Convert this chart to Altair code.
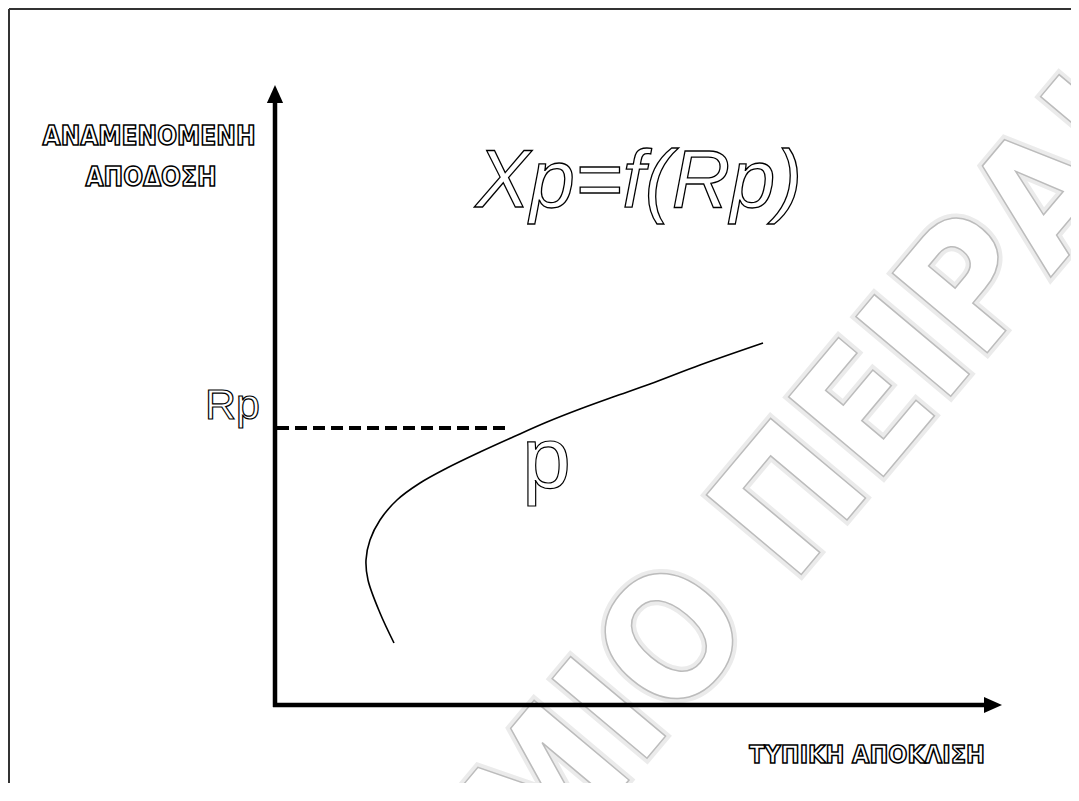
import altair as alt
import pandas as pd

# ---- data (units: pixels-like, origin at the axes crossing) ----
curve_risk   = [119, 105, 93, 91, 95, 105, 122, 145, 172, 205, 238, 272, 305, 338, 375, 425, 488]
curve_return = [62, 92, 125, 145, 165, 185, 205, 222, 237, 253, 268, 283, 296, 308, 321, 340, 362]

rp_level = 277          # expected return Rp of portfolio p
rp_risk = 235           # end of dashed guide

axis_x_end = 712
axis_y_end = 605
arrow_x = [718]
arrow_y = [611]

frame_left = -266
frame_top = 696

labels_big_y = ["ΑΝΑΜΕΝΟΜΕΝΗ", "ΑΠΟΔΟΣΗ"]
labels_big_y_x = [-126, -124]
labels_big_y_y = [560, 519]
label_x_axis = ["ΤΥΠΙΚΗ ΑΠΟΚΛΙΣΗ"]
label_x_axis_pos = [592, -58]
formula = ["Xp=f(Rp)"]
formula_pos = [364, 498]
rp_label = ["Rp"]
rp_label_pos = [-15, 286]
p_label = ["p"]
p_label_pos = [247, 217]
watermark = ["ΠΑΝΕΠΙΣΤΗΜΙΟ ΠΕΙΡΑΙΑ"]
watermark_pos = [925, 685]

W, H = 1063, 775
xs = alt.Scale(domain=[-267, 796], nice=False, zero=False)
ys = alt.Scale(domain=[-78, 697], nice=False, zero=False)


def X(f="x"):
    return alt.X(f + ":Q", scale=xs, axis=None)


def Y(f="y"):
    return alt.Y(f + ":Q", scale=ys, axis=None)


def text_layer(texts, xs_, ys_, **kw):
    df = pd.DataFrame({"x": xs_, "y": ys_, "t": texts})
    return alt.Chart(df).mark_text(**kw).encode(x=X(), y=Y(), text="t:N")


curve_df = pd.DataFrame({"x": curve_risk, "y": curve_return, "i": list(range(len(curve_risk)))})

wm_style = dict(font="DejaVu Sans Condensed", fontWeight="bold", fontSize=170,
                angle=310, align="right", baseline="middle")
wm_shadow = text_layer(watermark, [watermark_pos[0]], [watermark_pos[1]],
                       fill="white", stroke="#ebebeb", strokeWidth=9, **wm_style)
wm = text_layer(watermark, [watermark_pos[0]], [watermark_pos[1]],
                fill="white", stroke="#bcbcbc", strokeWidth=1.5, **wm_style)

frame_top_rule = alt.Chart(pd.DataFrame({"x": [frame_left], "x2": [800], "y": [frame_top]})).mark_rule(
    color="#333333", strokeWidth=2).encode(x=X(), x2="x2:Q", y=Y())
frame_left_rule = alt.Chart(pd.DataFrame({"x": [frame_left], "y": [-80], "y2": [frame_top]})).mark_rule(
    color="#333333", strokeWidth=2).encode(x=X(), y=Y(), y2="y2:Q")

yaxis = alt.Chart(pd.DataFrame({"x": [0], "y": [-2], "y2": [axis_y_end]})).mark_rule(
    color="black", strokeWidth=4.5).encode(x=X(), y=Y(), y2="y2:Q")
xaxis = alt.Chart(pd.DataFrame({"x": [-2], "x2": [axis_x_end], "y": [0]})).mark_rule(
    color="black", strokeWidth=4.5).encode(x=X(), x2="x2:Q", y=Y())

arrow_up = alt.Chart(pd.DataFrame({"x": [0], "y": arrow_y})).mark_point(
    shape="M0,-1L0.9,1L-0.9,1Z", filled=True, size=324, color="black", opacity=1).encode(x=X(), y=Y())
arrow_right = alt.Chart(pd.DataFrame({"x": arrow_x, "y": [0]})).mark_point(
    shape="M1,0L-1,-0.9L-1,0.9Z", filled=True, size=324, color="black", opacity=1).encode(x=X(), y=Y())

dashed = alt.Chart(pd.DataFrame({"x": [2], "x2": [rp_risk], "y": [rp_level]})).mark_rule(
    color="black", strokeWidth=4, strokeDash=[12, 6]).encode(x=X(), x2="x2:Q", y=Y())

curve = alt.Chart(curve_df).mark_line(color="black", strokeWidth=1.6, interpolate="catmull-rom").encode(
    x=X(), y=Y(), order="i:Q")

ylab = text_layer(labels_big_y, labels_big_y_x, labels_big_y_y,
                  font="DejaVu Sans Condensed", fontWeight="bold",
                  fontSize=26, align="center", baseline="alphabetic",
                  fill="white", stroke="black", strokeWidth=1.5)
xlab = text_layer(label_x_axis, [label_x_axis_pos[0]], [label_x_axis_pos[1]],
                  font="DejaVu Sans Condensed", fontWeight="bold",
                  fontSize=25, align="center", baseline="alphabetic",
                  fill="white", stroke="black", strokeWidth=1.5)
form = text_layer(formula, [formula_pos[0]], [formula_pos[1]],
                  font="Liberation Sans", fontStyle="italic", fontSize=81, align="center",
                  baseline="alphabetic", fill="white", stroke="black", strokeWidth=1.3)
rpl = text_layer(rp_label, [rp_label_pos[0]], [rp_label_pos[1]],
                 font="Liberation Sans", fontSize=43, align="right", baseline="alphabetic",
                 fill="white", stroke="black", strokeWidth=1.2)
pl = text_layer(p_label, [p_label_pos[0]], [p_label_pos[1]],
                font="Liberation Sans", fontSize=88, align="left", baseline="alphabetic",
                fill="white", stroke="black", strokeWidth=1.2)

chart = alt.layer(
    wm_shadow, wm, frame_top_rule, frame_left_rule, dashed, curve, yaxis, xaxis, arrow_up, arrow_right,
    ylab, xlab, form, rpl, pl
).properties(
    width=W, height=H, padding=0, autosize=alt.AutoSizeParams(type="none"), background="white"
).configure_view(stroke=None)

chart.save("out.html", embed_options={"renderer": "svg", "actions": False})
